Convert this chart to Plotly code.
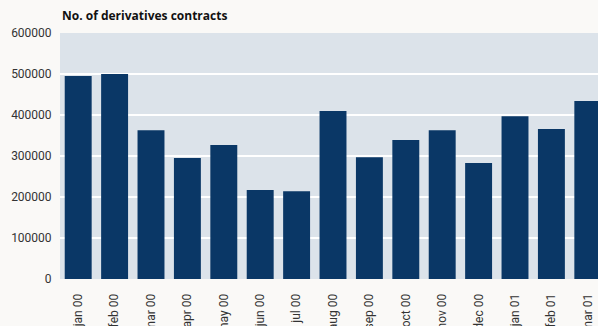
import plotly.graph_objects as go

months = ["jan 00", "feb 00", "mar 00", "apr 00", "may 00", "jun 00", "jul 00",
          "aug 00", "sep 00", "oct 00", "nov 00", "dec 00", "jan 01", "feb 01", "mar 01"]
contracts = [495000, 500000, 363000, 295000, 327000, 217000, 214000,
             410000, 297000, 339000, 363000, 283000, 397000, 366000, 434000]
y_ticks = [0, 100000, 200000, 300000, 400000, 500000, 600000]

fig = go.Figure(go.Bar(x=months, y=contracts, marker_color="#0a3766",
                       marker_line_width=0))

fig.update_layout(
    width=598, height=326,
    margin=dict(l=60, r=0, t=33, b=47),
    paper_bgcolor="#faf9f7", plot_bgcolor="#dce3ea",
    bargap=0.26, showlegend=False,
    font=dict(family="Roboto", size=12, color="#333333"),
    title=dict(text="<b>No. of derivatives contracts</b>", x=62/598, xanchor="left",
               y=1-16/326, yanchor="middle",
               font=dict(family="Open Sans", size=12, color="#111111")),
)
fig.update_xaxes(type="category", range=[-0.5, 14.28], tickangle=-90,
                 ticks="outside", ticklen=9, tickcolor="rgba(0,0,0,0)",
                 showgrid=False, automargin=False, tickfont=dict(size=12))
fig.update_yaxes(range=[0, 600000], tickvals=y_ticks,
                 ticktext=[str(v) for v in y_ticks],
                 gridcolor="#ffffff", gridwidth=2, zeroline=False,
                 ticks="outside", ticklen=5, tickcolor="rgba(0,0,0,0)",
                 automargin=False, tickfont=dict(size=12))

fig.write_html(
    "out.html",
    config={"displayModeBar": False},
    post_script="document.body.style.margin='0';document.body.style.overflow='hidden';"
                "document.body.style.background='#faf9f7';",
)
